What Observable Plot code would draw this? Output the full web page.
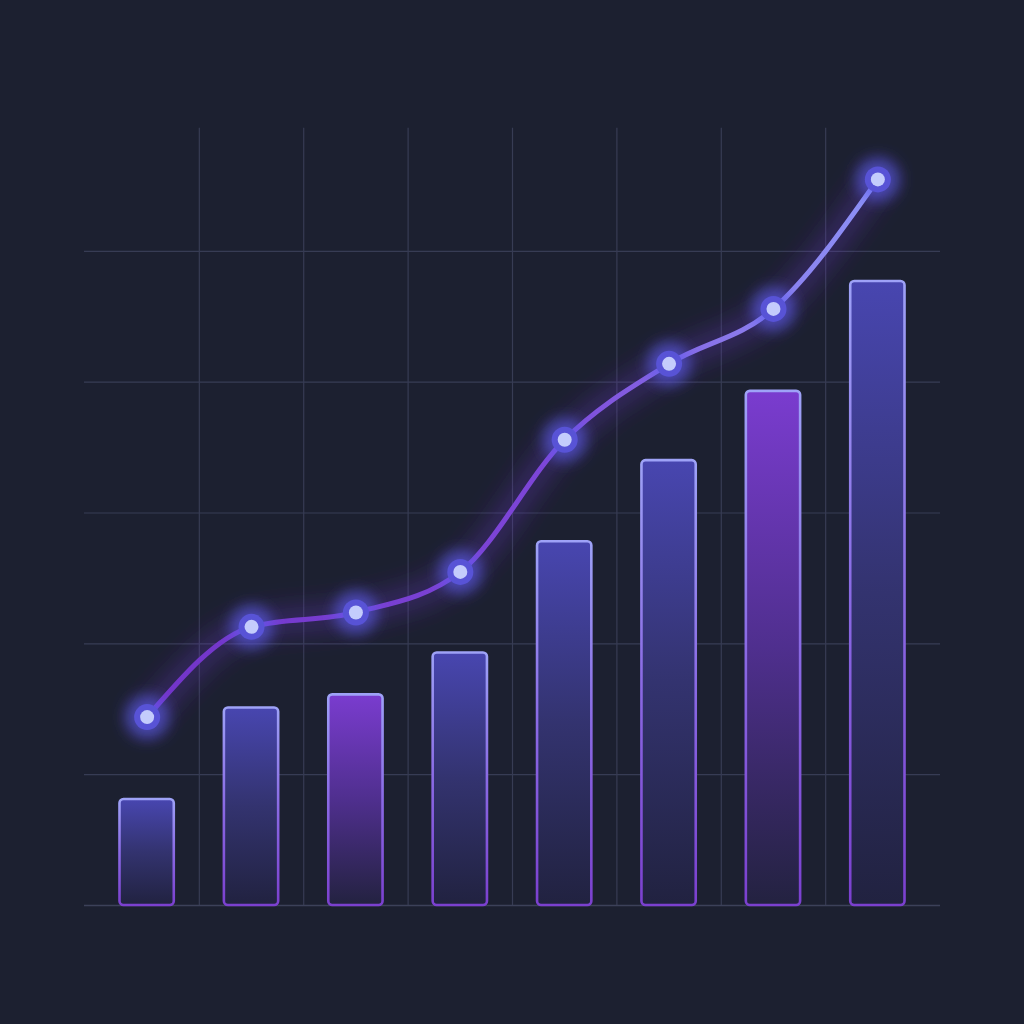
<!DOCTYPE html>
<html>
<head>
<meta charset="utf-8">
<script src="https://cdn.jsdelivr.net/npm/d3@7"></script>
<script src="https://cdn.jsdelivr.net/npm/@observablehq/plot@0.6"></script>
<style>
html, body { margin: 0; padding: 0; background: #1c2030; }
#chart { width: 1024px; height: 1024px; }
</style>
</head>
<body>
<div id="chart"></div>
<script>
// ---- data ----
const categories = [0, 1, 2, 3, 4, 5, 6, 7];
const barValues  = [0.81, 1.51, 1.61, 1.93, 2.78, 3.40, 3.93, 4.77];
const lineValues = [1.44, 2.13, 2.24, 2.55, 3.56, 4.14, 4.56, 5.55];
const barTone    = ["blue", "blue", "purple", "blue", "blue", "blue", "purple", "blue"];
const yGrid      = [1, 2, 3, 4, 5];
const yBase      = [0];

const table = categories.map((c, k) => ({ i: c, bar: barValues[k], line: lineValues[k], tone: barTone[k] }));
const xDividers = categories.slice(1).map(c => c - 0.5);
const half = 0.26;

const gridColor = "#373c54";

const chart = Plot.plot({
  width: 1024,
  height: 1024,
  marginLeft: 84,
  marginRight: 84,
  marginTop: 120,
  marginBottom: 119,
  style: { background: "#1c2030" },
  x: { type: "linear", domain: [-0.6, 7.6], axis: null },
  y: { domain: [0, 6], axis: null },
  marks: [
    Plot.ruleY(yGrid, { stroke: gridColor, strokeWidth: 1.2 }),
    Plot.ruleX(xDividers, { y1: 0, y2: 5.94, stroke: gridColor, strokeWidth: 1.2 }),
    Plot.ruleY(yBase, { stroke: "#3c4159", strokeWidth: 1.5 }),
    Plot.rectY(table.filter(d => d.tone === "blue"), {
      x1: d => d.i - half, x2: d => d.i + half, y: "bar",
      fill: "url(#gBlue)", stroke: "url(#gStroke)", strokeWidth: 2.6, rx: 4
    }),
    Plot.rectY(table.filter(d => d.tone === "purple"), {
      x1: d => d.i - half, x2: d => d.i + half, y: "bar",
      fill: "url(#gPurple)", stroke: "url(#gStroke)", strokeWidth: 2.6, rx: 4
    }),
    Plot.lineY(table, {
      x: "i", y: "line", curve: "monotone-x",
      stroke: "#7436d6", strokeWidth: 26, strokeOpacity: 0.3,
      className: "lineglow"
    }),
    Plot.lineY(table, {
      x: "i", y: "line", curve: "monotone-x",
      stroke: "url(#gLine)", strokeWidth: 5
    }),
    Plot.dot(table, {
      x: "i", y: "line", r: 22, fill: "#5d5ef0", fillOpacity: 0.6,
      className: "dotglow"
    }),
    Plot.dot(table, {
      x: "i", y: "line", r: 13, fill: "#5853d6"
    }),
    Plot.dot(table, {
      x: "i", y: "line", r: 7, fill: "#c4ccfc"
    })
  ]
});

const svg = d3.select(chart);
const defs = svg.insert("defs", ":first-child");

function vgrad(id, stops) {
  const g = defs.append("linearGradient").attr("id", id)
    .attr("x1", 0).attr("y1", 0).attr("x2", 0).attr("y2", 1);
  stops.forEach(([o, c]) => g.append("stop").attr("offset", o).attr("stop-color", c));
}
vgrad("gBlue", [[0, "#4846b0"], [0.5, "#33336f"], [1, "#212240"]]);
vgrad("gPurple", [[0, "#7a3ccf"], [0.5, "#4f2f8e"], [1, "#232240"]]);
vgrad("gStroke", [[0, "#9ea2f7"], [0.5, "#8a6ae4"], [1, "#7b40cf"]]);

const lg = defs.append("linearGradient").attr("id", "gLine")
  .attr("x1", 0).attr("y1", 0).attr("x2", 1).attr("y2", 0);
[[0, "#7234c8"], [0.55, "#7d46d8"], [0.8, "#8a78ea"], [1, "#8d92f6"]]
  .forEach(([o, c]) => lg.append("stop").attr("offset", o).attr("stop-color", c));

function blur(id, s) {
  defs.append("filter").attr("id", id)
    .attr("x", "-50%").attr("y", "-50%").attr("width", "200%").attr("height", "200%")
    .append("feGaussianBlur").attr("stdDeviation", s);
}
blur("fLineGlow", 12);
blur("fDotGlow", 7);

svg.selectAll("g.lineglow").attr("filter", "url(#fLineGlow)");
svg.selectAll("g.dotglow").attr("filter", "url(#fDotGlow)");

document.getElementById("chart").appendChild(chart);
</script>
</body>
</html>
